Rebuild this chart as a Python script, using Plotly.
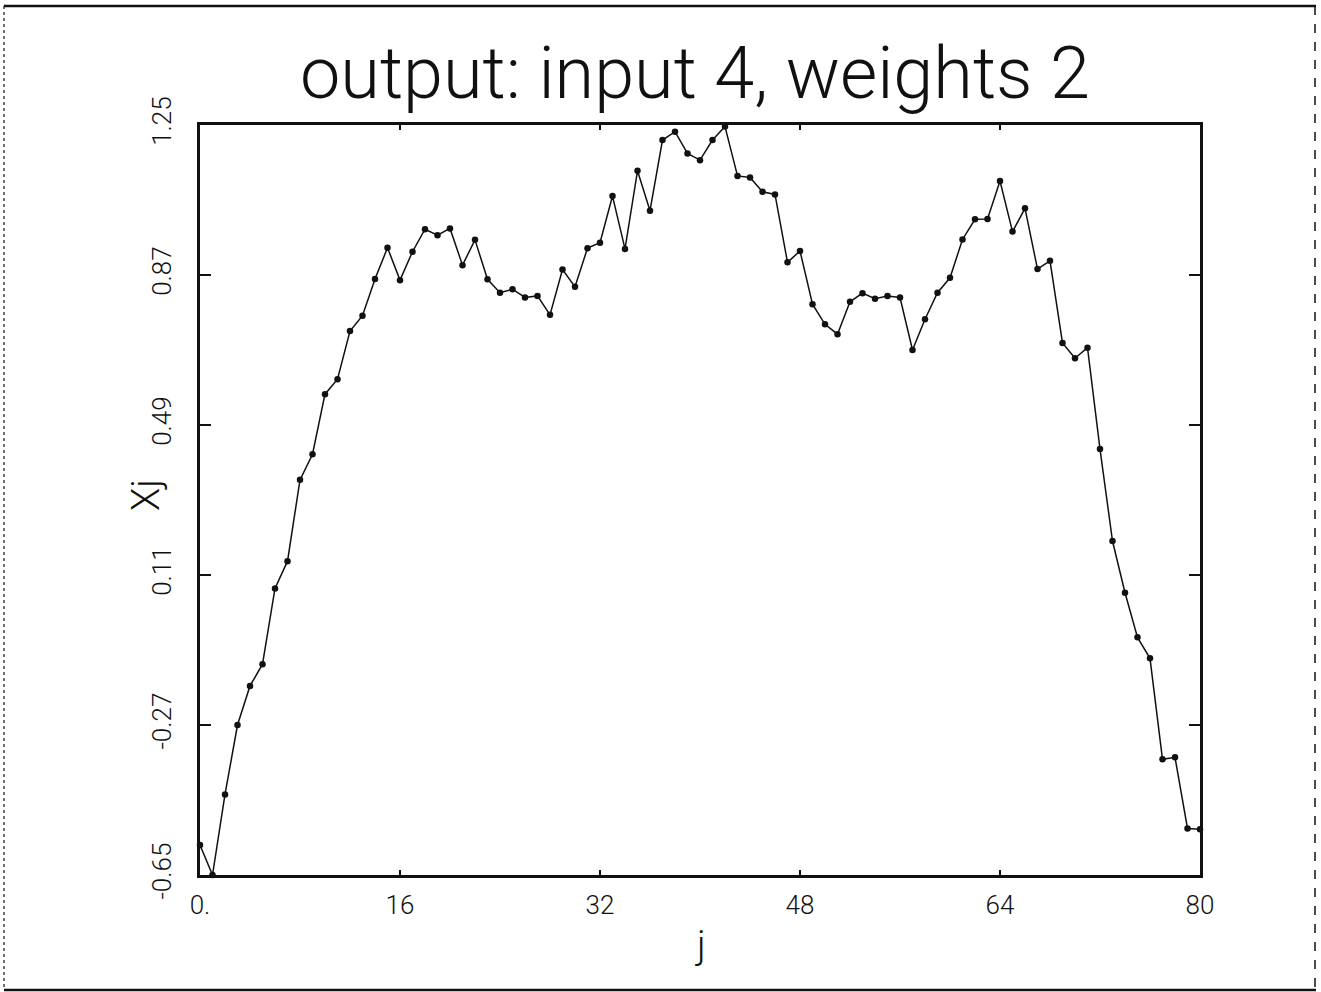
import plotly.graph_objects as go

# Network output X_j for input pattern 4 with weight set 2
j_index = list(range(81))
x_values = [
    -0.574, -0.650, -0.446, -0.270, -0.171, -0.116, 0.076, 0.145, 0.351, 0.416,
    0.568, 0.606, 0.728, 0.767, 0.860, 0.939, 0.857, 0.929, 0.986, 0.971,
    0.988, 0.895, 0.959, 0.859, 0.825, 0.834, 0.813, 0.817, 0.769, 0.884,
    0.840, 0.938, 0.952, 1.070, 0.936, 1.134, 1.033, 1.212, 1.233, 1.178,
    1.161, 1.212, 1.246, 1.121, 1.117, 1.081, 1.074, 0.902, 0.931, 0.796,
    0.745, 0.720, 0.802, 0.824, 0.810, 0.817, 0.813, 0.680, 0.758, 0.825,
    0.863, 0.960, 1.011, 1.012, 1.108, 0.980, 1.039, 0.885, 0.906, 0.698,
    0.659, 0.686, 0.429, 0.196, 0.065, -0.048, -0.101, -0.357, -0.352, -0.532,
    -0.534,
]

x_tick_vals = [0, 16, 32, 48, 64, 80]
x_tick_text = ["0.", "16", "32", "48", "64", "80"]
y_tick_vals = [-0.65, -0.27, 0.11, 0.49, 0.87, 1.25]
y_tick_text = ["-0.65", "-0.27", "0.11", "0.49", "0.87", "1.25"]

title_text = "output: input 4, weights 2"
x_label = "j"
y_label = "Xj"

LIGHT = "Roboto"
INK = "#111111"

fig = go.Figure()
fig.add_trace(go.Scatter(
    x=j_index, y=x_values,
    mode="lines+markers",
    line=dict(color=INK, width=1.5),
    marker=dict(color=INK, size=6.5),
    cliponaxis=False,
    showlegend=False,
))

fig.update_xaxes(
    range=[0, 80],
    tickmode="array", tickvals=x_tick_vals, ticktext=x_tick_text,
    ticks="inside", ticklen=5, tickwidth=1.5, tickcolor=INK,
    showline=True, linewidth=3, linecolor=INK, mirror="ticks",
    showgrid=False, zeroline=False,
    tickfont=dict(family=LIGHT, size=26, color=INK, weight=300),
    ticklabelstandoff=5,
)
fig.update_yaxes(
    range=[-0.65, 1.25],
    tickmode="array", tickvals=y_tick_vals, ticktext=y_tick_text,
    ticks="inside", ticklen=11, tickwidth=2, tickcolor=INK,
    showline=True, linewidth=3, linecolor=INK, mirror="ticks",
    showgrid=False, zeroline=False,
    tickangle=-90,
    tickfont=dict(family=LIGHT, size=26, color=INK, weight=300),
    ticklabelstandoff=16,
)

W, H = 1321, 992
L, R, T, B = 200, 121, 125, 117
pw, ph = W - L - R, H - T - B


def px(xp):
    return (xp - L) / pw


def py(yp):
    return (H - B - yp) / ph


annotations = [
    dict(text=title_text, x=px(695), y=py(74), xref="paper", yref="paper",
         showarrow=False, font=dict(family=LIGHT, size=72, color=INK, weight=300),
         xanchor="center", yanchor="middle"),
    dict(text=x_label, x=px(700), y=py(945), xref="paper", yref="paper",
         showarrow=False, font=dict(family=LIGHT, size=38, color=INK, weight=300),
         xanchor="center", yanchor="middle"),
    dict(text=y_label, x=px(146), y=py(495), xref="paper", yref="paper",
         showarrow=False, textangle=-90,
         font=dict(family=LIGHT, size=38, color=INK, weight=300),
         xanchor="center", yanchor="middle"),
]

# outer frame around the whole sheet
shapes = [
    dict(type="line", xref="paper", yref="paper", x0=px(4), x1=px(1316),
         y0=py(6), y1=py(6), line=dict(color=INK, width=2.5)),
    dict(type="line", xref="paper", yref="paper", x0=px(4), x1=px(1316),
         y0=py(990), y1=py(990), line=dict(color=INK, width=2.5)),
    dict(type="line", xref="paper", yref="paper", x0=px(4), x1=px(4),
         y0=py(6), y1=py(990), line=dict(color=INK, width=1.2, dash="dot")),
    dict(type="line", xref="paper", yref="paper", x0=px(1315), x1=px(1315),
         y0=py(6), y1=py(990), line=dict(color=INK, width=1.5, dash="dash")),
]

fig.update_layout(
    width=W, height=H,
    margin=dict(l=L, r=R, t=T, b=B),
    paper_bgcolor="white", plot_bgcolor="white",
    annotations=annotations, shapes=shapes,
)

fig.write_html("out.html")
